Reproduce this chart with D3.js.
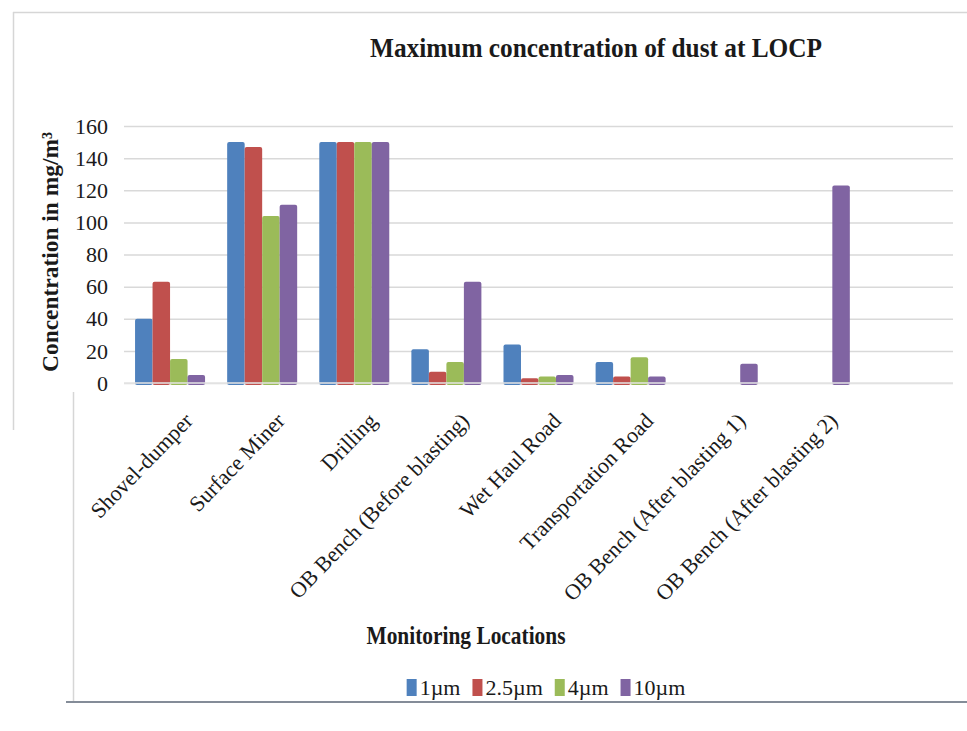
<!DOCTYPE html>
<html>
<head>
<meta charset="utf-8">
<script src="https://cdn.jsdelivr.net/npm/d3@7"></script>
<style>
  html, body { margin: 0; padding: 0; background: #ffffff; }
  svg { display: block; }
  text { font-family: "Liberation Serif", "Times New Roman", serif; fill: #1a1a1a; }
</style>
</head>
<body>
<svg id="chart" width="967" height="731"></svg>
<script>
// Monitoring locations (the last slot is left empty, as in the original sheet)
const categories = [
  "Shovel-dumper", "Surface Miner", "Drilling", "OB Bench (Before blasting)",
  "Wet Haul Road", "Transportation Road", "OB Bench (After blasting 1)",
  "OB Bench (After blasting 2)", ""
];
const seriesNames = ["1\u00b5m", "2.5\u00b5m", "4\u00b5m", "10\u00b5m"];
const seriesColors = ["#4f81bd", "#c0504d", "#9bbb59", "#8064a2"];

// Maximum dust concentration (mg/m³) per particle size
const pm1   = [40, 150, 150, 21, 24, 13, 0, 0];
const pm2_5 = [63, 147, 150, 7, 3, 4, 0, 0];
const pm4   = [15, 104, 150, 13, 4, 16, 0, 0];
const pm10  = [5, 111, 150, 63, 5, 4, 12, 123];

const yTicks = [0, 20, 40, 60, 80, 100, 120, 140, 160];

const seriesValues = [pm1, pm2_5, pm4, pm10];

const svg = d3.select("#chart");

// outer frame lines
const frame = svg.append("g").attr("fill", "none");
frame.append("line").attr("x1", 13).attr("x2", 967).attr("y1", 12.5).attr("y2", 12.5)
  .attr("stroke", "#d6d6d6").attr("stroke-width", 1.5);
frame.append("line").attr("x1", 13.5).attr("x2", 13.5).attr("y1", 12).attr("y2", 430)
  .attr("stroke", "#d6d6d6").attr("stroke-width", 1.5);
frame.append("line").attr("x1", 73.5).attr("x2", 73.5).attr("y1", 392).attr("y2", 702)
  .attr("stroke", "#d6d6d6").attr("stroke-width", 1.5);
frame.append("line").attr("x1", 66).attr("x2", 967).attr("y1", 702).attr("y2", 702)
  .attr("stroke", "#848c98").attr("stroke-width", 2);

const plot = { left: 124, right: 953, top: 126, bottom: 383 };

const x = d3.scaleBand()
  .domain(categories.map((c, i) => i))
  .range([plot.left, plot.right])
  .paddingInner(0.24)
  .paddingOuter(0.12);

const xs = d3.scaleBand()
  .domain(seriesNames)
  .range([0, x.bandwidth()]);

const y = d3.scaleLinear().domain([0, 160]).range([plot.bottom, plot.top]);

// horizontal gridlines
const yAxis = d3.axisLeft(y).tickValues(yTicks).tickSize(-(plot.right - plot.left)).tickFormat("");
const gGrid = svg.append("g").attr("transform", `translate(${plot.left},0)`).call(yAxis);
gGrid.select(".domain").remove();
gGrid.selectAll(".tick line").attr("stroke", "#d9d9d9").attr("stroke-width", 1.5);

// tick labels
svg.append("g").selectAll("text").data(yTicks).join("text")
  .attr("x", 108)
  .attr("y", d => y(d))
  .attr("dy", "0.35em")
  .attr("text-anchor", "end")
  .attr("font-size", 22)
  .text(d => d);

// bars
const groups = svg.append("g").selectAll("g")
  .data(categories.slice(0, 8).map((c, i) => i))
  .join("g")
  .attr("transform", i => `translate(${x(i)},0)`);

groups.selectAll("rect")
  .data(i => seriesValues.map((vals, s) => ({ s, v: vals[i] })).filter(d => d.v > 0))
  .join("rect")
  .attr("x", d => xs(seriesNames[d.s]))
  .attr("width", xs.bandwidth())
  .attr("y", d => y(d.v))
  .attr("height", d => y(0) - y(d.v) + 2)
  .attr("rx", 2)
  .attr("fill", d => seriesColors[d.s]);

// baseline drawn over the bars
svg.append("line")
  .attr("x1", plot.left).attr("x2", plot.right)
  .attr("y1", y(0)).attr("y2", y(0))
  .attr("stroke", "#e4e4e4").attr("stroke-width", 1.5);

// category labels, rotated
svg.append("g").selectAll("text")
  .data(categories.slice(0, 8))
  .join("text")
  .attr("text-anchor", "end")
  .attr("font-size", 22)
  .attr("transform", (d, i) => `translate(${x(i) + x.bandwidth() / 2 + 24},${422}) rotate(-46)`)
  .text(d => d);

// title
svg.append("text")
  .attr("x", 596).attr("y", 57)
  .attr("text-anchor", "middle")
  .attr("font-size", 28)
  .attr("font-weight", "bold")
  .attr("textLength", 452)
  .attr("lengthAdjust", "spacingAndGlyphs")
  .text("Maximum concentration  of dust at LOCP");

// y-axis title
svg.append("text")
  .attr("transform", "translate(58,252) rotate(-90)")
  .attr("text-anchor", "middle")
  .attr("font-size", 23)
  .attr("font-weight", "bold")
  .attr("textLength", 240)
  .attr("lengthAdjust", "spacingAndGlyphs")
  .text("Concentration in mg/m\u00b3");

// x-axis title
svg.append("text")
  .attr("x", 466).attr("y", 644)
  .attr("text-anchor", "middle")
  .attr("font-size", 25)
  .attr("font-weight", "bold")
  .attr("textLength", 199)
  .attr("lengthAdjust", "spacingAndGlyphs")
  .text("Monitoring Locations");

// legend
const legend = svg.append("g").attr("transform", "translate(0,695)");
let lx = 0;
const items = legend.selectAll("g").data(seriesNames).join("g");
items.append("rect")
  .attr("y", -16).attr("width", 10).attr("height", 17)
  .attr("fill", (d, i) => seriesColors[i]);
items.append("text")
  .attr("x", 13).attr("font-size", 22)
  .text(d => d);
items.each(function () {
  const g = d3.select(this);
  const w = g.select("text").node().getComputedTextLength();
  g.attr("transform", `translate(${lx},0)`);
  lx += 13 + w + 12;
});
const totalW = lx - 12;
legend.attr("transform", `translate(${546 - totalW / 2},695)`);
</script>
</body>
</html>
